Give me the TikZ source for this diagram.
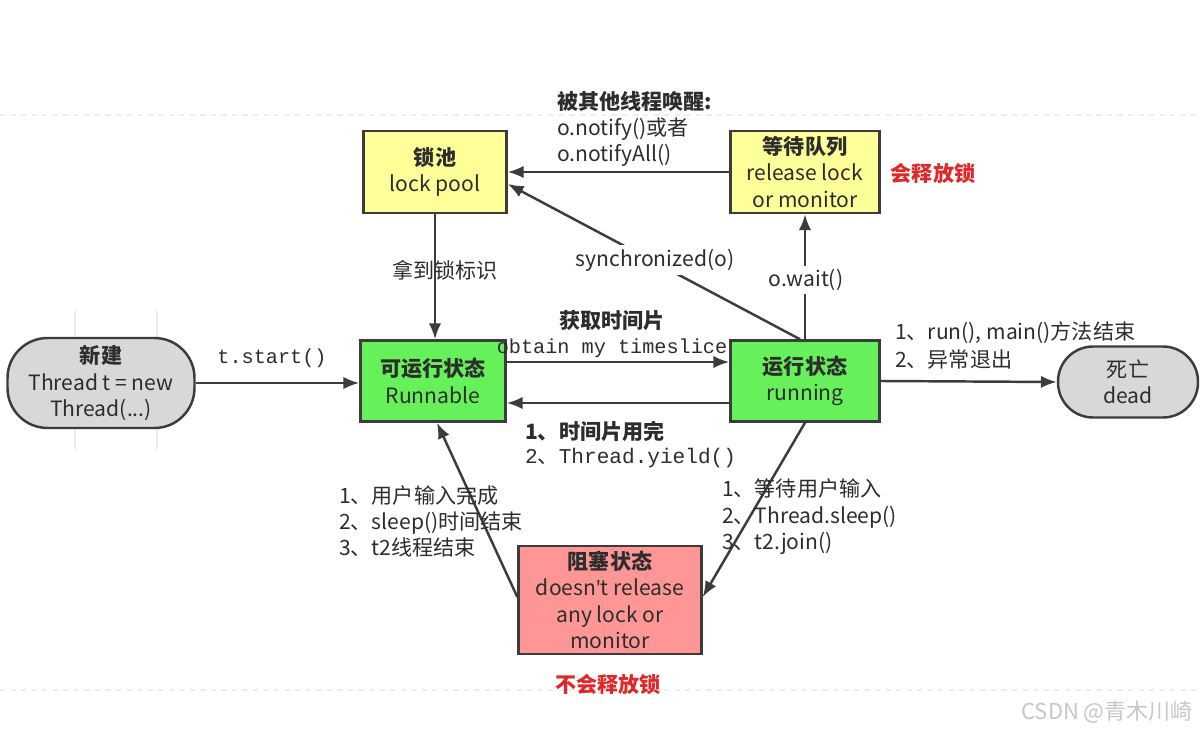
\documentclass[tikz,border=0pt]{standalone}
\usepackage{fontspec}
\setmainfont{Noto Sans CJK SC}
\newfontfamily\monof{Liberation Mono}
\newfontfamily\latinf{Noto Sans}
\usetikzlibrary{arrows.meta}
\definecolor{txt}{RGB}{45,45,45}
\definecolor{edge}{RGB}{60,60,60}
\definecolor{yel}{RGB}{255,255,153}
\definecolor{grn}{RGB}{102,240,90}
\definecolor{pnk}{RGB}{255,150,150}
\definecolor{gry}{RGB}{216,216,216}
\definecolor{redt}{RGB}{225,40,40}
\tikzset{
  x=0.02cm, y=-0.02cm,
  every node/.style={text=txt, font=\fontsize{12}{15}\selectfont, align=center, inner sep=1pt},
  box/.style={draw=edge, line width=1.4pt, inner sep=0pt},
  term/.style={box, fill=gry, rounded corners=0.8cm},
  arr/.style={draw=edge, line width=1.4pt, -{Latex[length=9pt,width=7pt]}},
  lbl/.style={align=left, anchor=west},
  mono/.style={font=\monof\fontsize{11.5}{15}\selectfont},
  redlbl/.style={text=redt, font=\fontsize{12}{15}\selectfont\bfseries},
  grid/.style={draw=black!7, line width=0.6pt}
}
\begin{document}
\begin{tikzpicture}
\useasboundingbox (0,0) rectangle (1200,732);
\fill[white] (0,0) rectangle (1200,732);
% faint background lines
\draw[grid, dashed] (0,115) -- (1200,115);
\draw[grid, dashed] (0,690) -- (1200,690);
\draw[grid] (75,310) -- (75,450);
\draw[grid] (157,310) -- (157,450);

% nodes
\node[term, minimum width=3.74cm, minimum height=1.8cm] (new) at (101,383) {{\bfseries 新建}\\Thread t = new\\Thread(...)};
\node[box, fill=yel, minimum width=2.86cm, minimum height=1.64cm] (lock) at (435,172) {{\bfseries 锁池}\\lock pool};
\node[box, fill=yel, minimum width=2.98cm, minimum height=1.64cm] (wait) at (805,172) {{\bfseries 等待队列}\\release lock\\or monitor};
\node[box, fill=grn, minimum width=2.9cm, minimum height=1.62cm] (runnable) at (433,381) {{\bfseries 可运行状态}\\Runnable};
\node[box, fill=grn, minimum width=2.98cm, minimum height=1.62cm] (running) at (805,381) {{\bfseries 运行状态}\\running};
\node[term, rounded corners=0.7cm, minimum width=2.8cm, minimum height=1.42cm] (dead) at (1128,382) {死亡\\dead};
\node[box, fill=pnk, minimum width=3.66cm, minimum height=2.16cm] (block) at (610,600) {{\bfseries 阻塞状态}\\doesn{\latinf '}t release\\any lock or\\monitor};

% connectors
\draw[arr] (new.east) -- (runnable.west |- new.east);
\node[mono] (tstart) at (272,358) {t.start()};

\draw[arr] (lock.south) -- (lock.south |- runnable.north);
\node (getlock) at (445,270) {拿到锁标识};

\draw[arr] (wait.west) -- (lock.east);
\node[lbl, anchor=north west] (notify) at (555,89) {{\bfseries 被其他线程唤醒:}\\o.notify()或者\\o.notifyAll()};

\draw[arr] ([xshift=-0.1cm]running.north) -- ([yshift=-0.24cm]lock.east);
\node[fill=white, inner sep=2pt] (sync) at (655,260) {synchronized(o)};

\draw[arr] (running.north) -- (wait.south);
\node[fill=white, inner sep=2pt] (owait) at (806,280) {o.wait()};

\draw[arr] ([yshift=0.38cm]runnable.east) -- ([yshift=0.38cm]running.west);
\node (obtcn) at (612,321) {\bfseries 获取时间片};
\node[mono] (obten) at (612,348) {obtain my timeslice};

\draw[arr] ([yshift=-0.44cm]running.west) -- ([yshift=-0.44cm]runnable.east);
\node[lbl] (yield1) at (523,431) {\bfseries 1、时间片用完};
\node[lbl] (yield2) at (523,458) {{\monof 2}、{\monof Thread.yield()}};

\draw[arr] (running.east) -- (dead.west);
\node[lbl] (end1) at (893,333) {1、run(), main()方法结束};
\node[lbl] (end2) at (893,360) {2、异常退出};

\draw[arr] (running.south) -- ([yshift=0.06cm]block.east);
\node[lbl, anchor=north west] (blk) at (720,477) {1、等待用户输入\\2、Thread.sleep()\\3、t2.join()};

\draw[arr] ([yshift=0.06cm]block.west) -- ([xshift=0.08cm]runnable.south);
\node[lbl, anchor=north west] (unblk) at (337,483) {1、用户输入完成\\2、sleep()时间结束\\3、t2线程结束};

\node[redlbl] (rel) at (933,173) {会释放锁};
\node[redlbl] (norel) at (608,684) {不会释放锁};

\node[text=black!22, font=\fontsize{12.5}{15}\selectfont] (wm) at (1107,712) {CSDN @青木川崎};
\end{tikzpicture}
\end{document}
